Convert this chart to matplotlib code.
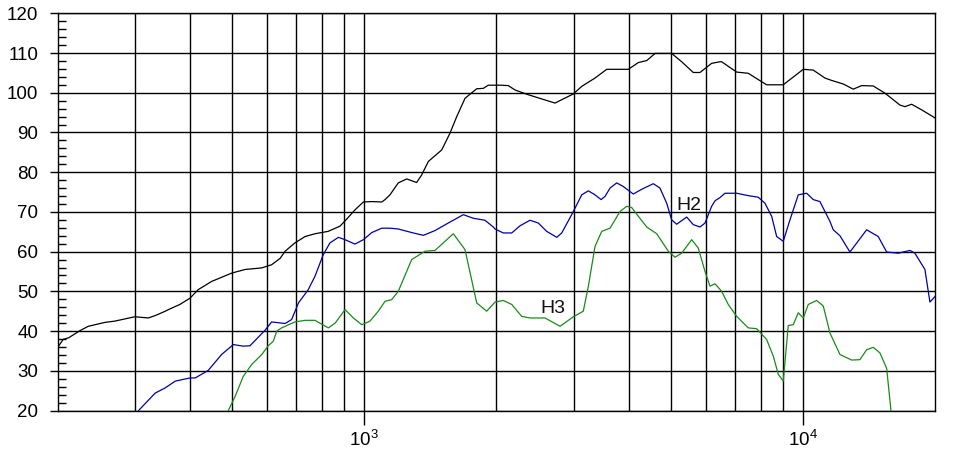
import matplotlib
matplotlib.use('Agg')
import matplotlib.pyplot as plt
from matplotlib.ticker import FixedLocator, FixedFormatter, NullFormatter, MultipleLocator

# ---- data ----
freq_main = [200, 206, 212, 225, 235, 257, 270, 300, 322, 334, 352, 361, 380, 401, 418, 449, 499, 535,
             584, 615, 643, 660, 695, 733, 772, 827, 880, 912, 952, 995, 1040, 1096, 1115, 1144, 1195,
             1249, 1316, 1351, 1399, 1501, 1567, 1624, 1696, 1803, 1867, 1916, 2038, 2128, 2204, 2363,
             2719, 2994, 3128, 3354, 3567, 3995, 4210, 4400, 4596, 5014, 5284, 5616, 5817, 6184, 6459,
             6517, 7051, 7491, 8250, 9004, 10000, 10539, 11205, 11606, 12334, 12999, 13583, 14436,
             15348, 16605, 17047, 17655, 18605, 20000]
spl_main = [35.8, 37.9, 38.3, 40.1, 41.2, 42.2, 42.5, 43.6, 43.3, 43.9, 45.0, 45.6, 46.7, 48.3, 50.4,
            52.5, 54.6, 55.5, 55.9, 56.7, 58.3, 60.1, 62.2, 63.8, 64.5, 65.1, 66.4, 68.2, 70.5, 72.5,
            72.6, 72.5, 73.1, 74.3, 77.3, 78.3, 77.4, 79.3, 82.7, 85.6, 89.8, 94.0, 98.6, 101.0, 101.1,
            101.9, 101.9, 101.8, 100.7, 99.5, 97.4, 99.7, 101.6, 103.7, 105.9, 105.9, 107.6, 108.1,
            109.9, 109.9, 107.8, 105.1, 105.1, 107.4, 107.8, 107.8, 105.2, 104.9, 102.0, 102.0, 105.9,
            105.7, 103.7, 103.1, 102.2, 100.9, 101.8, 101.7, 99.9, 96.9, 96.5, 97.1, 95.7, 93.6]

freq_h2 = [306, 334, 352, 371, 401, 412, 441, 473, 503, 530, 549, 594, 615, 660, 683, 708, 745, 772,
           806, 835, 873, 904, 952, 995, 1040, 1096, 1144, 1195, 1282, 1363, 1449, 1553, 1681, 1771,
           1883, 1967, 1985, 2073, 2167, 2263, 2385, 2491, 2603, 2744, 2817, 2994, 3128, 3239, 3354,
           3462, 3535, 3629, 3758, 3890, 4100, 4285, 4555, 4715, 4885, 5014, 5148, 5425, 5616, 5817,
           5973, 6184, 6294, 6459, 6631, 7051, 7491, 7895, 8178, 8472, 8698, 9004, 9326, 9741, 10179,
           10539, 10914, 11205, 11503, 11703, 12122, 12774, 13944, 14818, 15488, 16457, 17501, 17962,
           18930, 19433, 20000]
spl_h2 = [20.0, 24.4, 25.7, 27.4, 28.2, 28.2, 30.1, 34.1, 36.6, 36.2, 36.3, 40.2, 42.3, 41.9, 42.9,
          47.1, 50.4, 53.8, 59.2, 62.2, 63.6, 63.0, 61.9, 63.0, 64.8, 65.9, 65.9, 65.7, 64.8, 64.1,
          65.3, 67.2, 69.3, 68.4, 67.9, 66.2, 65.7, 64.7, 64.7, 66.5, 67.9, 67.2, 65.1, 63.6, 64.7,
          70.1, 74.3, 75.3, 74.3, 73.1, 73.9, 76.0, 77.3, 76.4, 74.5, 75.7, 77.1, 76.0, 72.2, 68.0,
          66.9, 68.7, 66.8, 66.2, 67.2, 71.4, 72.8, 73.6, 74.7, 74.7, 74.1, 73.7, 72.2, 68.9, 63.8,
          62.6, 68.0, 74.3, 74.7, 73.1, 72.6, 70.1, 67.6, 65.5, 64.0, 59.9, 65.5, 63.8, 59.9, 59.6,
          60.3, 59.6, 55.5, 47.3, 48.8]

freq_h3 = [490, 508, 530, 554, 584, 604, 620, 632, 648, 695, 733, 772, 828, 858, 904, 944, 987, 1030,
           1076, 1115, 1154, 1195, 1282, 1375, 1449, 1527, 1595, 1696, 1803, 1900, 1985, 2073, 2167,
           2283, 2385, 2580, 2792, 2994, 3154, 3239, 3354, 3474, 3629, 3824, 3960, 4066, 4210, 4400,
           4636, 4926, 5103, 5284, 5569, 5765, 5973, 6130, 6294, 6517, 6747, 7051, 7491, 7828, 8250,
           8545, 8772, 9004, 9243, 9489, 9741, 10000, 10266, 10728, 11107, 11205, 11503, 12122, 12889,
           13462, 13944, 14436, 14951, 15488, 15841]
spl_h3 = [20.0, 23.6, 28.6, 31.6, 34.1, 36.3, 37.4, 40.0, 40.8, 42.3, 42.7, 42.7, 40.8, 42.0, 45.4,
          43.3, 41.6, 42.5, 45.0, 47.5, 47.9, 50.0, 58.0, 60.1, 60.3, 62.6, 64.5, 60.5, 47.1, 45.0,
          47.3, 47.7, 46.7, 43.7, 43.3, 43.3, 41.2, 43.6, 45.0, 51.3, 61.3, 65.1, 65.9, 70.1, 71.4,
          71.1, 68.9, 66.2, 64.5, 60.1, 58.6, 59.6, 63.0, 60.9, 55.0, 51.3, 51.9, 50.0, 46.7, 43.7,
          40.8, 40.6, 37.9, 33.7, 29.1, 27.4, 41.4, 41.6, 44.6, 43.3, 46.7, 47.7, 46.3, 44.6, 39.5,
          34.1, 32.7, 32.8, 35.3, 35.9, 34.5, 30.6, 20.0]

x_major = [1000, 10000]
x_major_labels = [r'$\mathregular{10^{3}}$', r'$\mathregular{10^{4}}$']
x_minor = [300, 400, 500, 600, 700, 800, 900, 2000, 3000, 4000, 5000, 6000, 7000, 8000, 9000]

# ---- style ----
plt.rcParams['font.family'] = ['Liberation Sans', 'DejaVu Sans']
plt.rcParams['mathtext.fontset'] = 'custom'
plt.rcParams['mathtext.rm'] = 'Liberation Sans'
plt.rcParams['mathtext.it'] = 'Liberation Sans:italic'

fig = plt.figure(figsize=(9.56, 4.55), dpi=100)
ax = fig.add_axes([57.5 / 956, (455 - 410.5) / 455, (935.4 - 57.5) / 956, (410.5 - 13.3) / 455])

ax.semilogx(freq_main, spl_main, color='black', lw=0.9, zorder=3)
ax.semilogx(freq_h2, spl_h2, color='#0000a8', lw=0.9, zorder=3)
ax.semilogx(freq_h3, spl_h3, color='#1a8a1a', lw=0.9, zorder=3)

ax.text(5148, 70.6, 'H2', fontsize=14, color='#111111', ha='left', va='baseline', zorder=4)
ax.text(2513, 44.6, 'H3', fontsize=14, color='#111111', ha='left', va='baseline', zorder=4)

ax.set_xlim(200, 20000)
ax.set_ylim(20, 120)

ax.xaxis.set_major_locator(FixedLocator(x_major))
ax.xaxis.set_major_formatter(FixedFormatter(x_major_labels))
ax.xaxis.set_minor_locator(FixedLocator(x_minor))
ax.xaxis.set_minor_formatter(NullFormatter())
ax.yaxis.set_major_locator(MultipleLocator(10))
ax.yaxis.set_minor_locator(MultipleLocator(2))

ax.grid(which='major', color='black', lw=1.0)
ax.grid(which='minor', axis='x', color='black', lw=1.0)

ax.tick_params(axis='x', which='major', direction='out', length=10, width=1, pad=4, labelsize=13.5)
ax.tick_params(axis='x', which='minor', length=0)
ax.tick_params(axis='y', which='major', direction='out', length=6, width=1, pad=8, labelsize=13.5)
ax.tick_params(axis='y', which='minor', direction='in', length=6, width=1)

for s in ax.spines.values():
    s.set_color('black')
    s.set_linewidth(1.0)

fig.savefig('out.png', dpi=100)
